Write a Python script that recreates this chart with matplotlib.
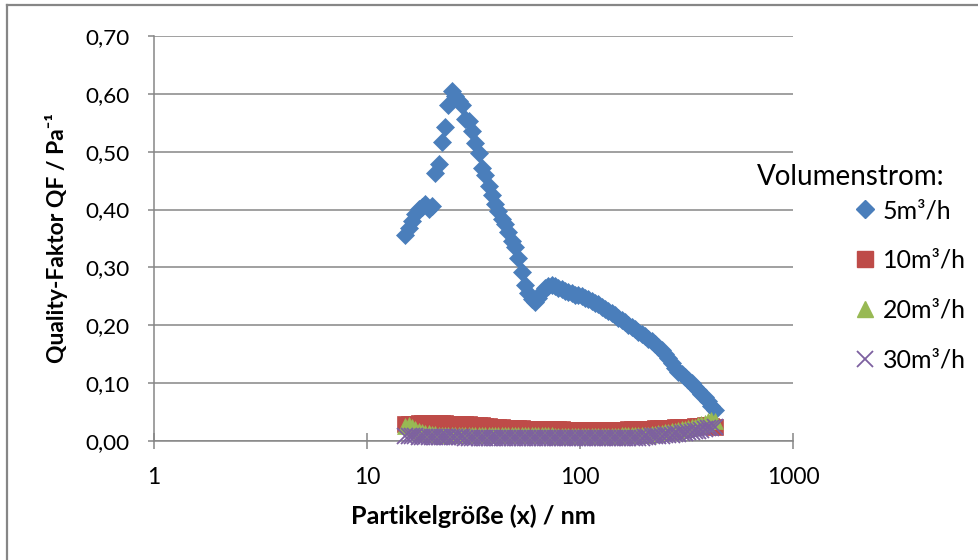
import matplotlib
matplotlib.use("Agg")
import matplotlib.pyplot as plt
from matplotlib.lines import Line2D
from matplotlib.ticker import FuncFormatter, FixedLocator, NullLocator

plt.rcParams['font.family'] = ['Lato', 'DejaVu Sans']

# ---------------- data ----------------
diameters_nm = [15.1, 15.7, 16.3, 16.8, 17.5, 18.1, 18.8, 19.5, 20.2, 20.9,
                21.7, 22.5, 23.3, 24.1, 25.0, 25.9, 26.9, 27.9, 28.9, 30.0,
                31.1, 32.2, 33.4, 34.6, 35.9, 37.2, 38.5, 40.0, 41.4, 42.9,
                44.5, 46.1, 47.8, 49.6, 51.4, 53.3, 55.2, 57.3, 59.4, 61.5,
                63.8, 66.1, 68.5, 71.0, 73.7, 76.4, 79.1, 82.0, 85.1, 88.2,
                91.4, 94.7, 98.2, 101.8, 105.5, 109.4, 113.4, 117.6, 121.9, 126.3,
                131.0, 135.8, 140.7, 145.9, 151.2, 156.8, 162.5, 168.5, 174.7, 181.1,
                187.7, 194.6, 201.7, 209.1, 216.7, 224.7, 232.9, 241.4, 250.3, 259.5,
                269.0, 278.8, 289.0, 299.6, 310.6, 322.0, 333.8, 346.0, 358.7, 371.8,
                385.4, 399.5, 414.2, 429.4]

qf_5 = [0.356, 0.368, 0.380, 0.392, 0.401, 0.405, 0.410, 0.401, 0.407, 0.463,
        0.478, 0.517, 0.543, 0.580, 0.605, 0.597, 0.588, 0.580, 0.557, 0.553,
        0.535, 0.515, 0.497, 0.472, 0.460, 0.441, 0.425, 0.409, 0.398, 0.384,
        0.375, 0.362, 0.346, 0.335, 0.316, 0.292, 0.270, 0.256, 0.246, 0.241,
        0.247, 0.258, 0.264, 0.268, 0.270, 0.268, 0.265, 0.262, 0.259, 0.257,
        0.255, 0.253, 0.252, 0.250, 0.247, 0.245, 0.242, 0.239, 0.236, 0.232,
        0.228, 0.225, 0.222, 0.218, 0.213, 0.209, 0.205, 0.200, 0.197, 0.193,
        0.189, 0.185, 0.181, 0.177, 0.172, 0.168, 0.163, 0.157, 0.150, 0.143,
        0.135, 0.127, 0.120, 0.115, 0.110, 0.105, 0.100, 0.094, 0.088, 0.082,
        0.076, 0.069, 0.060, 0.053]

qf_10 = [0.029, 0.030, 0.030, 0.030, 0.031, 0.031, 0.031, 0.031, 0.031, 0.031,
         0.031, 0.031, 0.031, 0.030, 0.030, 0.030, 0.030, 0.029, 0.029, 0.029,
         0.028, 0.028, 0.027, 0.027, 0.026, 0.026, 0.025, 0.025, 0.024, 0.024,
         0.023, 0.023, 0.023, 0.022, 0.022, 0.022, 0.021, 0.021, 0.021, 0.021,
         0.020, 0.020, 0.020, 0.020, 0.020, 0.020, 0.020, 0.020, 0.019, 0.019,
         0.019, 0.019, 0.019, 0.019, 0.019, 0.019, 0.019, 0.019, 0.019, 0.019,
         0.019, 0.019, 0.019, 0.019, 0.019, 0.019, 0.019, 0.020, 0.020, 0.020,
         0.020, 0.020, 0.021, 0.021, 0.021, 0.022, 0.022, 0.022, 0.023, 0.023,
         0.023, 0.024, 0.024, 0.024, 0.025, 0.025, 0.025, 0.026, 0.026, 0.026,
         0.027, 0.027, 0.026, 0.025]

qf_20 = [0.026, 0.027, 0.024, 0.021, 0.018, 0.016, 0.014, 0.013, 0.012, 0.012,
         0.011, 0.011, 0.011, 0.011, 0.011, 0.011, 0.011, 0.011, 0.011, 0.011,
         0.010, 0.010, 0.010, 0.010, 0.010, 0.010, 0.010, 0.010, 0.010, 0.010,
         0.010, 0.010, 0.010, 0.010, 0.010, 0.010, 0.010, 0.010, 0.010, 0.010,
         0.010, 0.010, 0.010, 0.010, 0.010, 0.009, 0.009, 0.009, 0.009, 0.009,
         0.009, 0.009, 0.009, 0.009, 0.009, 0.009, 0.009, 0.009, 0.009, 0.009,
         0.009, 0.009, 0.009, 0.009, 0.009, 0.010, 0.010, 0.010, 0.010, 0.010,
         0.010, 0.010, 0.011, 0.011, 0.012, 0.012, 0.013, 0.014, 0.015, 0.016,
         0.017, 0.018, 0.019, 0.020, 0.021, 0.022, 0.024, 0.025, 0.027, 0.029,
         0.031, 0.034, 0.037, 0.035]

qf_30 = [0.009, 0.008, 0.008, 0.008, 0.007, 0.007, 0.007, 0.007, 0.007, 0.007,
         0.007, 0.007, 0.007, 0.007, 0.007, 0.007, 0.007, 0.007, 0.006, 0.006,
         0.006, 0.006, 0.006, 0.006, 0.006, 0.006, 0.006, 0.006, 0.006, 0.006,
         0.006, 0.006, 0.006, 0.006, 0.005, 0.005, 0.005, 0.005, 0.005, 0.005,
         0.005, 0.005, 0.005, 0.005, 0.005, 0.005, 0.005, 0.005, 0.005, 0.005,
         0.005, 0.005, 0.005, 0.005, 0.005, 0.005, 0.005, 0.005, 0.005, 0.005,
         0.005, 0.005, 0.005, 0.005, 0.005, 0.005, 0.005, 0.005, 0.006, 0.006,
         0.006, 0.006, 0.007, 0.007, 0.008, 0.008, 0.009, 0.009, 0.010, 0.010,
         0.011, 0.012, 0.012, 0.013, 0.014, 0.015, 0.016, 0.017, 0.018, 0.019,
         0.020, 0.022, 0.023, 0.025]

series_labels = ['5m³/h', '10m³/h', '20m³/h', '30m³/h']
x_ticks = [1, 10, 100, 1000]
x_tick_labels = ['1', '10', '100', '1000']
y_ticks = [0.0, 0.1, 0.2, 0.3, 0.4, 0.5, 0.6, 0.7]

# ---------------- style ----------------
colors = ['#4A7EBB', '#BE4B48', '#98B954', '#7D60A0']
markers = ['D', 's', '^', 'x']
msizes = [9.2, 12, 12, 12]
grid_col = '#868686'

W, H = 979, 560
fig = plt.figure(figsize=(W / 100, H / 100), dpi=100)
ax = fig.add_axes([154 / W, 1 - 441 / H, (793 - 154) / W, (441 - 36) / H])

series = [qf_5, qf_10, qf_20, qf_30]
for vals, c, m, ms in zip(series, colors, markers, msizes):
    if m == 'x':
        ax.plot(diameters_nm, vals, linestyle='none', marker=m, ms=ms,
                mec=c, mew=1.3, clip_on=False, zorder=3)
    else:
        ax.plot(diameters_nm, vals, linestyle='none', marker=m, ms=ms,
                mfc=c, mec=c, mew=0.5, clip_on=False, zorder=3)

ax.set_xscale('log')
ax.set_xlim(1, 1000)
ax.set_ylim(0, 0.70)
ax.xaxis.set_major_locator(FixedLocator(x_ticks))
ax.xaxis.set_minor_locator(NullLocator())
ax.set_xticks(x_ticks)
ax.set_xticklabels(x_tick_labels)
ax.set_yticks(y_ticks)
ax.yaxis.set_major_formatter(FuncFormatter(lambda v, p: f"{v:.2f}".replace('.', ',')))

ax.grid(axis='y', color=grid_col, linewidth=1.1)
ax.set_axisbelow(True)
for s in ['top', 'right']:
    ax.spines[s].set_visible(False)
for s in ['left', 'bottom']:
    ax.spines[s].set_color(grid_col)
    ax.spines[s].set_linewidth(1.1)
    ax.spines[s].set_zorder(1)

ax.tick_params(axis='y', direction='out', length=4.5, width=1.1, color=grid_col,
               labelsize=16.2, pad=13, labelcolor='black')
ax.tick_params(axis='x', direction='inout', length=11.5, width=1.1, color=grid_col,
               labelsize=16.5, pad=13, labelcolor='black')

ax.set_xlabel('Partikelgröße (x) / nm', fontsize=18.2, fontweight='bold')
ax.xaxis.set_label_coords(0.5, (441 - 516) / 405)
ax.xaxis.label.set_va('center')
ax.set_ylabel('Quality-Faktor QF / Pa⁻¹', fontsize=16.5, fontweight='bold')
ax.yaxis.set_label_coords((57 - 154) / 639, 0.5)
ax.yaxis.label.set_va('center')

# legend
handles = []
for c, m, lab in zip(colors, markers, series_labels):
    if m == 'x':
        h = Line2D([], [], linestyle='none', marker=m, ms=12, mec=c, mew=1.3, label=lab)
    elif m == 'D':
        h = Line2D([], [], linestyle='none', marker=m, ms=9.2, mfc=c, mec=c, label=lab)
    else:
        h = Line2D([], [], linestyle='none', marker=m, ms=12, mfc=c, mec=c, label=lab)
    handles.append(h)
fig.legend(handles=handles, loc='upper left', bbox_to_anchor=(853 / W, 1 - 199 / H),
           bbox_transform=fig.transFigure, frameon=False, fontsize=18,
           handlelength=1.0, handletextpad=0.2, labelspacing=1.07,
           borderpad=0, borderaxespad=0, numpoints=1)
fig.text(757 / W, 1 - 177 / H, 'Volumenstrom:', fontsize=20, ha='left', va='center')

# outer chart frame (only top and left visible)
fig.add_artist(Line2D([7.5 / W, 7.5 / W], [0, 1 - 5 / H], transform=fig.transFigure,
                      color=grid_col, lw=1.6))
fig.add_artist(Line2D([7.5 / W, 1], [1 - 5 / H, 1 - 5 / H], transform=fig.transFigure,
                      color=grid_col, lw=1.6))

fig.savefig('out.png', dpi=100)
